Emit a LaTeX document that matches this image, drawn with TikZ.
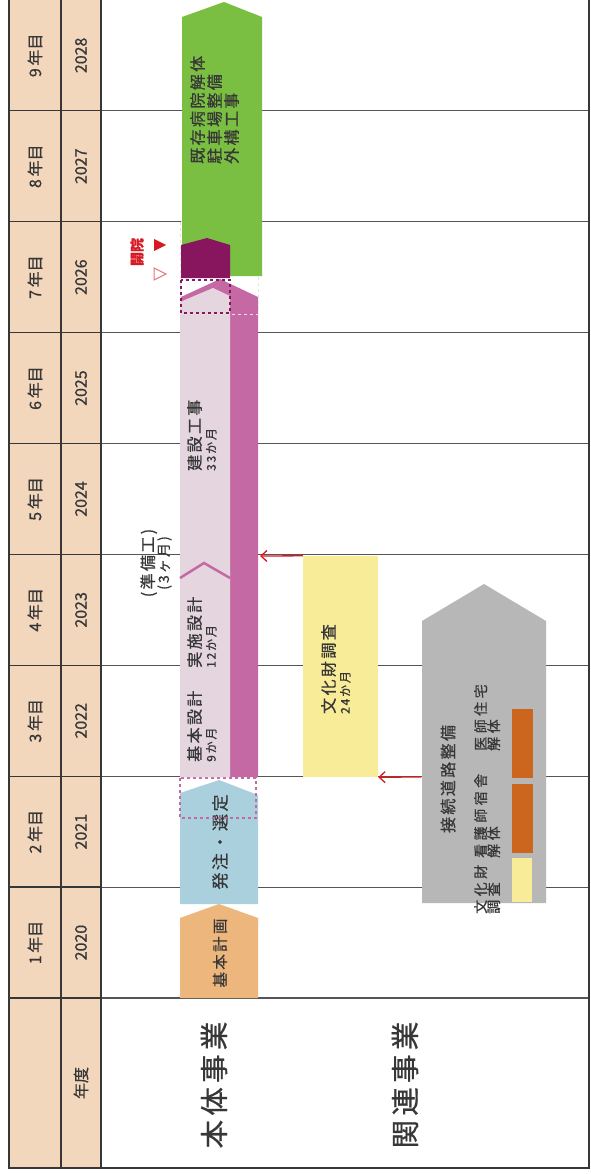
\documentclass[tikz,border=0pt]{standalone}
\usepackage{fontspec}
\setmainfont{Noto Sans CJK JP}[RawFeature={embolden=0.7}]
\newfontfamily\jpl{Noto Sans CJK JP}[LetterSpace=15,RawFeature={embolden=0.7}]
\newfontfamily\jpw{Noto Sans CJK JP}[LetterSpace=25,RawFeature={embolden=0.7}]
\usetikzlibrary{arrows.meta}
\definecolor{tanc}{RGB}{243,215,188}
\definecolor{txtc}{RGB}{55,55,55}
\definecolor{gridc}{RGB}{85,85,85}
\definecolor{orangec}{RGB}{237,182,124}
\definecolor{bluec}{RGB}{170,208,222}
\definecolor{lightc}{RGB}{228,213,223}
\definecolor{pinkc}{RGB}{197,105,165}
\definecolor{purplec}{RGB}{135,22,95}
\definecolor{greenc}{RGB}{122,190,66}
\definecolor{yellowc}{RGB}{249,236,152}
\definecolor{grayc}{RGB}{183,183,183}
\definecolor{brownc}{RGB}{204,102,30}
\definecolor{redc}{RGB}{215,25,35}
\tikzset{
  gridl/.style={draw=gridc, line width=1.1pt},
  tabl/.style={draw=txtc, line width=1.3pt},
  hdr/.style={rotate=90, text=txtc, inner sep=0pt, font=\fontsize{16}{18}\selectfont},
  bigt/.style={rotate=90, text=txtc, inner sep=0pt, font=\jpl\fontsize{28.5}{30}\selectfont},
  lbl/.style={rotate=90, text=txtc, inner sep=0pt, font=\jpl\fontsize{16}{18}\selectfont},
  grp/.style={rotate=90, text=txtc, inner sep=0pt, anchor=north west, align=left},
  rarrow/.style={draw=redc, line width=1.3pt, -{Straight Barb[length=6pt,width=11pt]}},
}
\begin{document}
\begin{tikzpicture}[x=1pt,y=-1pt]
\useasboundingbox (0,0) rectangle (591,1174);
\fill[white] (0,0) rectangle (591,1174);
\fill[tanc] (9,0) rectangle (101,1168);
% grid
\foreach \i in {0,...,8} {
  \draw[gridl] (101,{998-\i*110.9}) -- (589,{998-\i*110.9});
  \draw[tabl] (9,{998-\i*110.9}) -- (101,{998-\i*110.9});
}
\draw[tabl] (9,0) -- (9,1168) -- (589,1168) -- (589,0);
\draw[tabl] (61,0) -- (61,1168);
\draw[tabl] (101,0) -- (101,1168);
% header
\foreach \k in {0,...,8} {
  \pgfmathsetmacro\yc{998-(\k+0.5)*110.9}
  \pgfmathtruncatemacro\n{\k+1}
  \pgfmathtruncatemacro\yr{2020+\k}
  \node[hdr] (nen\n) at (35,\yc) {\n\,年目};
  \node[hdr] (yr\n) at (81,\yc) {\yr};
}
\node[hdr] (nendo) at (81,1083) {年度};
\node[bigt] (hontai) at (214,1085) {本体事業};
\node[bigt] (kanren) at (405,1085) {関連事業};

% main bars
\fill[orangec] (180,998) -- (180,918) -- (219,904) -- (258,918) -- (258,998) -- cycle;
\node[lbl, font=\jpl\fontsize{15.5}{18}\selectfont] (kihonkeikaku) at (220,953) {基本計画};
\fill[bluec] (180,904) -- (180,793) -- (219,780) -- (258,795) -- (258,904) -- cycle;
\node[lbl, font=\jpl\fontsize{17}{18}\selectfont] (hatchu) at (220,842) {発注・選定};
\draw[draw=pinkc, line width=1.2pt, dashed] (180,778) rectangle (256,818);

\fill[pinkc] (181,777) -- (181,297) -- (220,279) -- (258,297) -- (258,777) -- cycle;
\fill[lightc] (180,777) -- (180,302) -- (213,288) -- (230,296) -- (230,777) -- cycle;
\draw[pinkc, line width=2.5pt] (180,578) -- (204,563) -- (230,578);
\draw[white!80!gray, line width=1pt, dashed] (180,222) rectangle (258,314);
\draw[draw=purplec, line width=1.6pt, dashed] (181,280) rectangle (230,313);

\node[grp, font=\jpl\fontsize{16}{15}\selectfont] (kihonsekkei) at (187,762) {基本設計\\{\fontsize{12}{15}\selectfont 9か月}};
\node[grp, font=\jpl\fontsize{16}{15}\selectfont] (jisshi) at (187,668) {実施設計\\{\fontsize{12}{15}\selectfont 12か月}};
\node[grp, font=\jpl\fontsize{16}{15}\selectfont] (kensetsu) at (187,471) {建設工事\\{\fontsize{12}{15}\selectfont 33か月}};
\node[rotate=90, text=txtc, inner sep=0pt, align=center, font=\jpl\fontsize{16}{15}\selectfont] (junbi) at (156,563) {(準備工)\\{\fontsize{14}{15}\selectfont (3ヶ月)}};

% green and purple
\fill[greenc] (182,245) -- (182,17) -- (224,2) -- (262,17) -- (262,276) -- (230,276) -- (230,245) -- cycle;
\node[grp, font=\jpl\fontsize{16}{17}\selectfont] (green) at (190,164) {既存病院解体\\駐車場整備\\外構工事};
\fill[purplec] (181,278) -- (181,245) -- (207,238) -- (230,245) -- (230,278) -- cycle;

% kaiin
\node[rotate=90, text=redc, inner sep=0pt, font=\bfseries\fontsize{14}{15}\selectfont] (kaiin) at (137,252) {開院};
\fill[redc] (154,239) -- (154,251) -- (166,245) -- cycle;
\draw[draw=redc!60, line width=1pt] (154,268) -- (154,280) -- (166,274) -- cycle;

% related
\node[fill=yellowc, minimum width=75pt, minimum height=221pt, inner sep=0pt] (bunka) at (340.5,666.5) {};
\node[grp, font=\jpl\fontsize{16}{15}\selectfont] (bunkat) at (321,714) {文化財調査\\{\fontsize{12}{15}\selectfont 24か月}};
\coordinate (pinkr) at (260,556);
\draw[rarrow] (bunka.north west) -- (pinkr);

\fill[grayc] (422,903) -- (422,621) -- (484,584) -- (546,621) -- (546,903) -- cycle;
\coordinate (grayw) at (421,777);
\draw[rarrow] (grayw) -- (bunka.south east);
\node[lbl, font=\jpl\fontsize{16}{18}\selectfont] (setsuzoku) at (448,779) {接続道路整備};
\fill[yellowc] (512,858) rectangle (532,902);
\fill[brownc] (512,784) rectangle (533,853);
\fill[brownc] (512,709) rectangle (533,778);
\node[grp, font=\jpw\fontsize{14}{13}\selectfont] (ishi) at (474,751) {医師住宅\\解体};
\node[grp, font=\jpw\fontsize{14}{13}\selectfont] (kango) at (474,858) {看護師宿舎\\解体};
\node[grp, font=\jpw\fontsize{14}{13}\selectfont] (bunka2) at (474,914) {文化財\\調査};
\end{tikzpicture}
\end{document}
